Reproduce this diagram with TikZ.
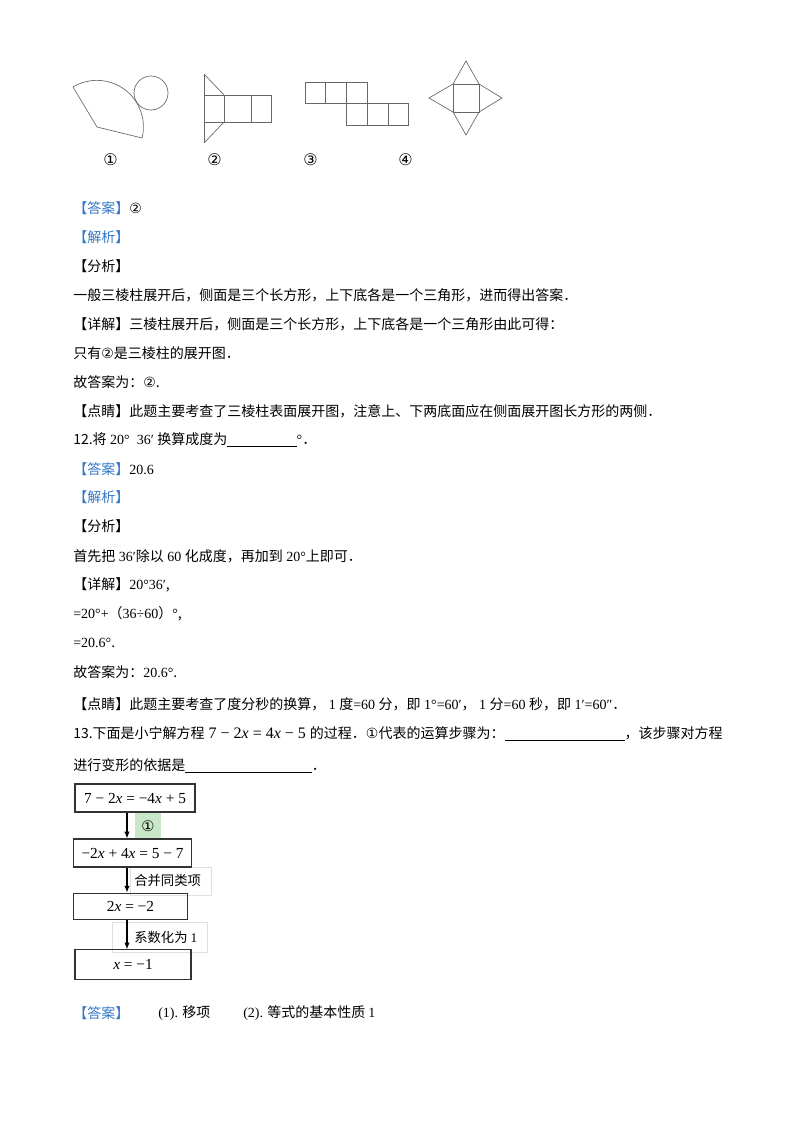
\documentclass[tikz,border=0pt]{standalone}
\usepackage{fontspec}
\usetikzlibrary{arrows.meta}
\setmainfont{Noto Sans CJK SC}
\newfontfamily\tm{Liberation Serif}
\newfontfamily\djv{DejaVu Sans}
\definecolor{hb}{RGB}{52,120,196}
\definecolor{gbg}{RGB}{200,230,200}
\newcommand{\hb}[1]{{\color{hb}【#1】}}
\newcommand{\bl}[1]{{\tm\underline{\hspace{#1}}}}
\newcommand{\vx}{\textit{x}}
\begin{document}
\begin{tikzpicture}[x=0.75pt,y=-0.75pt,
  tx/.style={anchor=west,inner sep=0pt,font=\fontsize{10.5}{12}\selectfont},
  fig/.style={draw=black!60,line width=0.5pt},
  box/.style={draw=black!80,line width=0.9pt},
  arr/.style={-{Latex[length=5pt,width=4pt]},line width=0.8pt}]
\useasboundingbox (0,0) rectangle (800,1132);
\fill[white] (0,0) rectangle (800,1132);
% figure 1
\draw[fig] (142,138) -- (97,127) -- (73,87) arc[start angle=-121,end angle=14,radius=46.5];
\draw[fig] (151,93) circle[radius=17];
% figure 2
\draw[fig] (204,74) -- (204,143);
\draw[fig] (204,95) rectangle (271,122);
\draw[fig] (224,95) -- (224,122) (251,95) -- (251,122);
\draw[fig] (204,74) -- (224,95) (224,122) -- (204,143);
% figure 3
\draw[fig] (305,82) rectangle (367,103);
\draw[fig] (325,82) -- (325,103) (346,82) -- (346,103);
\draw[fig] (346,103) rectangle (408,125);
\draw[fig] (367,103) -- (367,125) (388,103) -- (388,125);
% figure 4
\draw[fig] (453,84) rectangle (479,112);
\draw[fig] (453,84) -- (466,61) -- (479,84);
\draw[fig] (453,112) -- (466,135) -- (479,112);
\draw[fig] (453,84) -- (429,98) -- (453,112);
\draw[fig] (479,84) -- (502,98) -- (479,112);
\node[tx,font=\djv\fontsize{12}{14}\selectfont] (l1) at (103,160) {①};
\node[tx,font=\djv\fontsize{12}{14}\selectfont] (l2) at (207,160) {②};
\node[tx,font=\djv\fontsize{12}{14}\selectfont] (l3) at (303,160) {③};
\node[tx,font=\djv\fontsize{12}{14}\selectfont] (l4) at (398,160) {④};
% text
\node[tx] (t1) at (73,208) {\hb{答案}{\djv②}};
\node[tx] (t2) at (73,237) {\hb{解析}};
\node[tx] (t3) at (73,266) {【分析】};
\node[tx] (t4) at (73,295) {一般三棱柱展开后，侧面是三个长方形，上下底各是一个三角形，进而得出答案．};
\node[tx] (t5) at (73,324) {【详解】三棱柱展开后，侧面是三个长方形，上下底各是一个三角形由此可得：};
\node[tx] (t6) at (73,353) {只有{\djv②}是三棱柱的展开图．};
\node[tx] (t7) at (73,382) {故答案为：{\djv②}.};
\node[tx] (t8) at (73,411) {【点睛】此题主要考查了三棱柱表面展开图，注意上、下两底面应在侧面展开图长方形的两侧．};
\node[tx] (t9) at (73,440) {12.将{\tm\ 20°\ \ 36′\ }换算成度为\bl{52pt}{\tm °}．};
\node[tx] (t10) at (73,469) {\hb{答案}{\tm 20.6}};
\node[tx] (t11) at (73,497) {\hb{解析}};
\node[tx] (t12) at (73,526) {【分析】};
\node[tx] (t13) at (73,556) {首先把{\tm\ 36′}除以{\tm\ 60 }化成度，再加到{\tm\ 20°}上即可．};
\node[tx] (t14) at (73,585) {【详解】{\tm 20°36′},};
\node[tx] (t15) at (73,614) {{\tm =20°+}（{\tm 36÷60}）{\tm °},};
\node[tx] (t16) at (73,643) {{\tm =20.6°}.};
\node[tx] (t17) at (73,672) {故答案为：{\tm 20.6°}.};
\node[tx] (t18) at (73,704) {【点睛】此题主要考查了度分秒的换算，{\tm\ 1 }度{\tm =60 }分，即{\tm\ 1°=60′}，{\tm\ 1 }分{\tm =60 }秒，即{\tm\ 1′=60″}．};
\node[tx] (t19) at (73,734) {13.下面是小宁解方程{\tm\fontsize{12}{14}\selectfont\ 7 − 2\vx\ = 4\vx\ − 5 }的过程．{\djv①}代表的运算步骤为：\bl{90pt}，该步骤对方程};
\node[tx] (t20) at (73,766) {进行变形的依据是\bl{95pt}．};
% flowchart
\fill[gbg] (135,813) rectangle (161,840);
\node[inner sep=0pt,font=\djv\fontsize{11}{13}\selectfont] (c1) at (148,826) {①};
\draw[black!12] (130,867) rectangle (211,895);
\draw[black!12] (112,922) rectangle (207,952);
\tikzset{bf/.style={box,inner sep=0pt,font=\tm\fontsize{11.5}{13}\selectfont}}
\node[bf,minimum width=90pt,minimum height=21pt] (b1) at (135,798) {7 − 2\vx\ = −4\vx\ + 5};
\node[bf,minimum width=89pt,minimum height=21pt] (b2) at (132.5,853) {−2\vx\ + 4\vx\ = 5 − 7};
\node[bf,minimum width=86pt,minimum height=20pt] (b3) at (130.5,906.5) {2\vx\ = −2};
\node[bf,minimum width=87pt,minimum height=22pt] (b4) at (133,964.5) {\vx\ = −1};
\draw[arr] (b1.south -| 127,0) -- (b2.north -| 127,0);
\draw[arr] (b2.south -| 127,0) -- (b3.north -| 127,0);
\draw[arr] (b3.south -| 127,0) -- (b4.north -| 127,0);
\node[tx,font=\fontsize{10}{12}\selectfont] (s1) at (134,880) {合并同类项};
\node[tx,font=\fontsize{10}{12}\selectfont] (s2) at (134,937) {系数化为 {\tm 1}};
% answer
\node[tx] (t21) at (73,1013) {\hb{答案}};
\node[tx] (t22) at (158,1013) {{\tm (1).} 移项};
\node[tx] (t23) at (243,1013) {{\tm (2).} 等式的基本性质 {\tm 1}};
\end{tikzpicture}
\end{document}
